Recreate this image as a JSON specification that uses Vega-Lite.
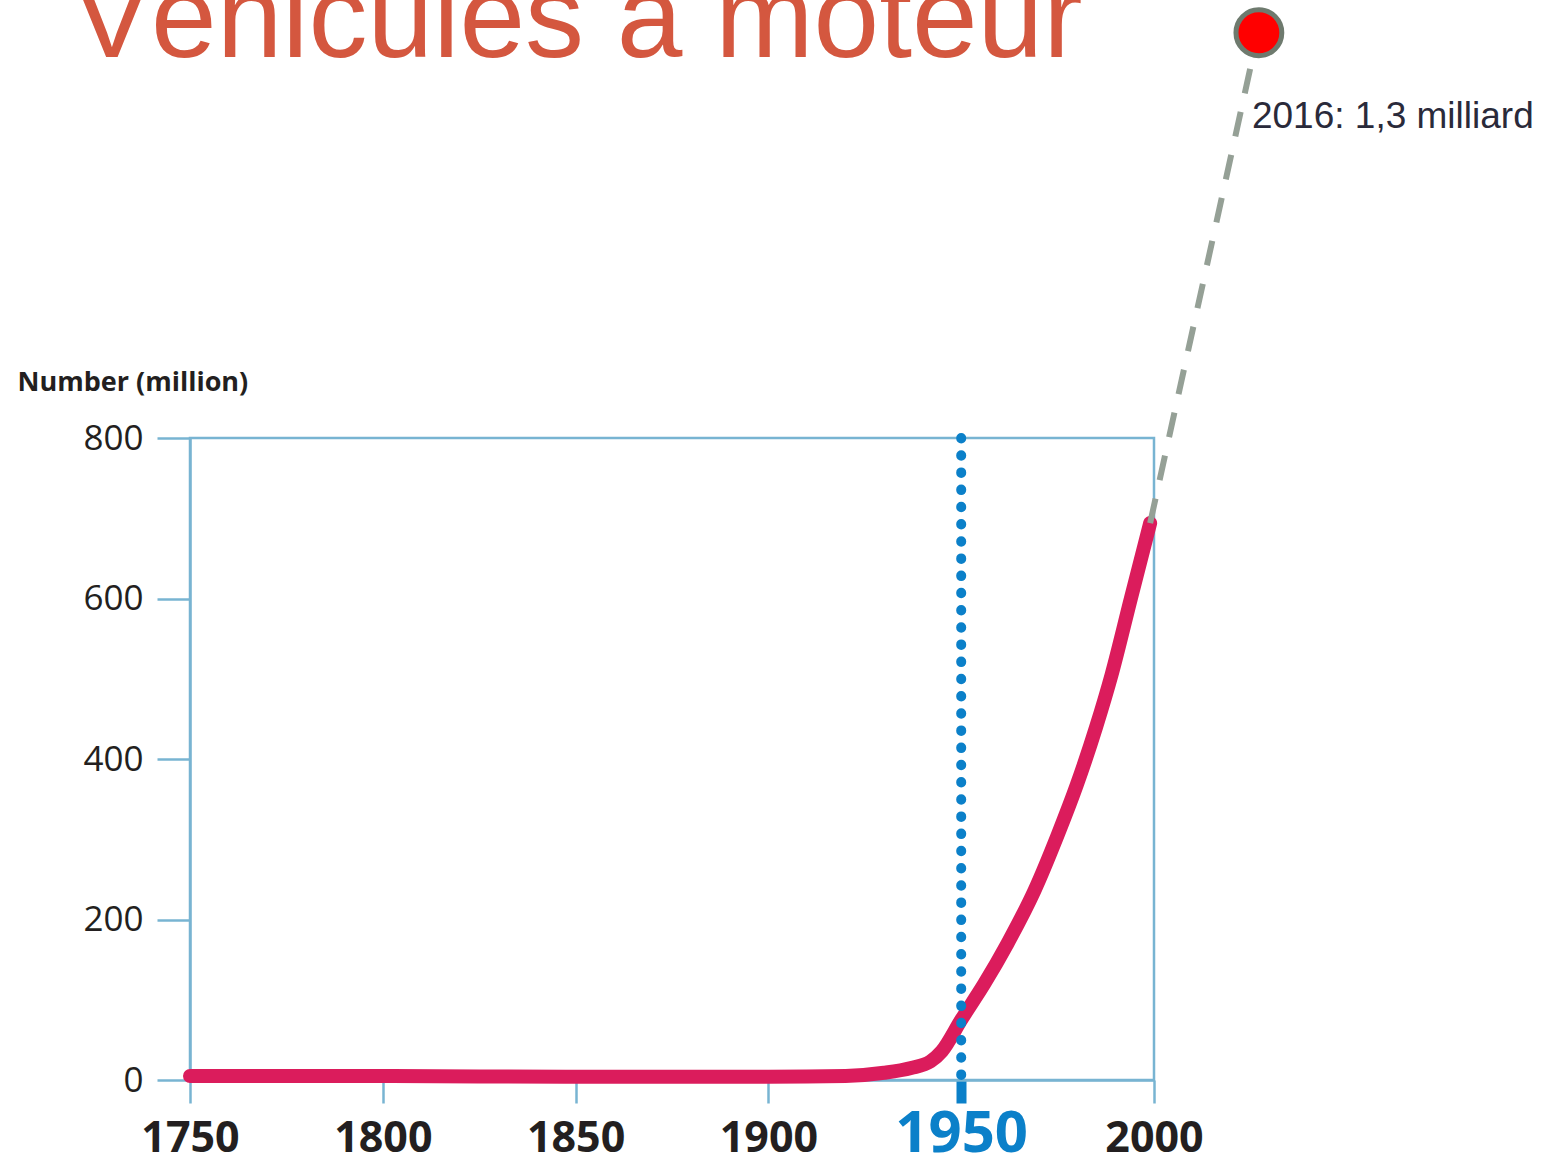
{
  "$schema": "https://vega.github.io/schema/vega-lite/v6.json",
  "width": 964,
  "height": 642,
  "autosize": {"type": "none"},
  "padding": {"left": 190, "top": 438, "right": 402, "bottom": 79},
  "background": "white",
  "config": {
    "view": {"stroke": "#78b4d2", "strokeWidth": 2.5},
    "axis": {"grid": false}
  },
  "layer": [
    {
      "data": {"values": [
        {"year": 1750, "value": 5},
        {"year": 1800, "value": 5},
        {"year": 1850, "value": 4},
        {"year": 1900, "value": 4},
        {"year": 1920, "value": 5},
        {"year": 1930, "value": 9},
        {"year": 1937, "value": 15},
        {"year": 1942, "value": 23},
        {"year": 1945, "value": 36},
        {"year": 1950, "value": 75},
        {"year": 1956, "value": 120},
        {"year": 1962, "value": 170},
        {"year": 1969, "value": 236},
        {"year": 1975, "value": 305},
        {"year": 1980, "value": 368},
        {"year": 1985, "value": 440},
        {"year": 1989, "value": 505},
        {"year": 1994, "value": 600},
        {"year": 1999, "value": 694}
      ]},
      "mark": {"type": "line", "color": "#db1c5c", "strokeWidth": 14, "strokeCap": "round", "strokeJoin": "round", "interpolate": "monotone"},
      "encoding": {
        "x": {
          "field": "year", "type": "quantitative",
          "scale": {"domain": [1750, 2000], "nice": false, "zero": false},
          "axis": {
            "title": null,
            "values": [1750, 1800, 1850, 1900, 1950, 2000],
            "format": "d",
            "labelFlush": false,
            "labelOverlap": false,
            "labelBound": false,
            "labelFont": "Open Sans",
            "labelFontWeight": "bold",
            "labelFontSize": {"condition": {"test": "datum.value === 1950", "value": 58}, "value": 43},
            "labelColor": {"condition": {"test": "datum.value === 1950", "value": "#0b80c9"}, "value": "#231f20"},
            "labelBaseline": "alphabetic",
            "labelPadding": 48,
            "tickSize": 23,
            "tickColor": {"condition": {"test": "datum.value === 1950", "value": "#0b80c9"}, "value": "#78b4d2"},
            "tickWidth": {"condition": {"test": "datum.value === 1950", "value": 10}, "value": 2.5},
            "domainColor": "#78b4d2",
            "domainWidth": 2.5
          }
        },
        "y": {
          "field": "value", "type": "quantitative",
          "scale": {"domain": [0, 800], "nice": false},
          "axis": {
            "title": "Number (million)",
            "values": [0, 200, 400, 600, 800],
            "titleAngle": 0,
            "titleAlign": "left",
            "titleBaseline": "alphabetic",
            "titleX": -173,
            "titleY": -48,
            "titleFont": "Open Sans",
            "titleFontWeight": "bold",
            "titleFontSize": 27,
            "titleColor": "#231f20",
            "labelFont": "Open Sans",
            "labelFontSize": 35,
            "labelColor": "#231f20",
            "labelPadding": 14,
            "tickSize": 33,
            "tickColor": "#78b4d2",
            "tickWidth": 2.5,
            "domainColor": "#78b4d2",
            "domainWidth": 2.5
          }
        }
      }
    },
    {
      "data": {"values": [{"year": 1950, "value": 800, "value2": 0}]},
      "mark": {"type": "rule", "color": "#0b80c9", "strokeWidth": 10, "strokeCap": "round", "strokeDash": [0.5, 16.7]},
      "encoding": {
        "x": {"field": "year", "type": "quantitative"},
        "y": {"field": "value", "type": "quantitative"},
        "y2": {"field": "value2"}
      }
    },
    {
      "data": {"values": [{"year": 1999, "value": 694, "year2": 2027, "value2": 1305}]},
      "mark": {"type": "rule", "color": "#95a096", "strokeWidth": 6, "strokeDash": [25, 19]},
      "encoding": {
        "x": {"field": "year", "type": "quantitative"},
        "y": {"field": "value", "type": "quantitative"},
        "x2": {"field": "year2"},
        "y2": {"field": "value2"}
      }
    },
    {
      "data": {"values": [{"year": 2027.2, "value": 1305}]},
      "mark": {"type": "point", "shape": "circle", "filled": true, "fill": "#ff0000", "stroke": "#6e7a6e", "strokeWidth": 5, "size": 2100, "opacity": 1},
      "encoding": {
        "x": {"field": "year", "type": "quantitative"},
        "y": {"field": "value", "type": "quantitative"}
      }
    },
    {
      "data": {"values": [{"year": 2025.4, "value": 1186, "label": "2016: 1,3 milliard"}]},
      "mark": {"type": "text", "align": "left", "baseline": "alphabetic", "font": "Liberation Sans", "fontSize": 37, "color": "#2a2a3a"},
      "encoding": {
        "x": {"field": "year", "type": "quantitative"},
        "y": {"field": "value", "type": "quantitative"},
        "text": {"field": "label"}
      }
    },
    {
      "data": {"values": [{"year": 1719.5, "value": 1275, "label": "Véhicules à moteur"}]},
      "mark": {"type": "text", "align": "left", "baseline": "alphabetic", "font": "Liberation Sans", "fontSize": 118, "color": "#d4573f"},
      "encoding": {
        "x": {"field": "year", "type": "quantitative"},
        "y": {"field": "value", "type": "quantitative"},
        "text": {"field": "label"}
      }
    }
  ]
}
